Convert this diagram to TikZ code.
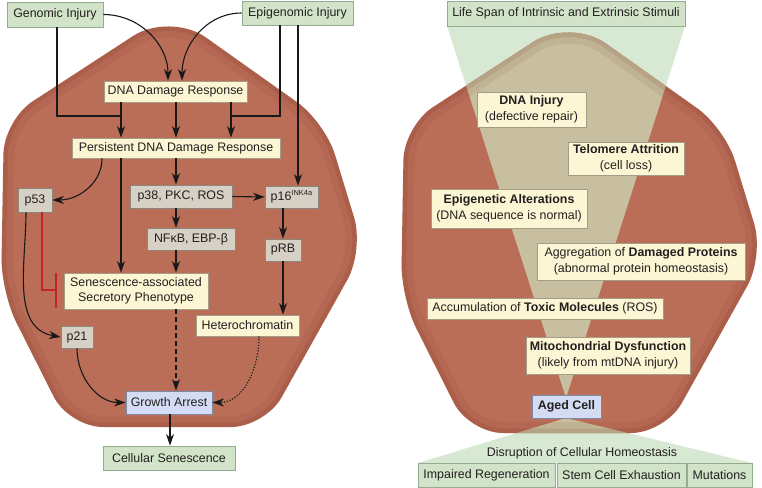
\documentclass[tikz,border=0pt]{standalone}
\usepackage{fontspec}
\setmainfont{Liberation Sans}
\usetikzlibrary{arrows.meta,calc}
\definecolor{cellbrown}{HTML}{BA6D57}
\definecolor{celldark}{HTML}{6E2A1A}
\definecolor{tanc}{HTML}{C7BF9F}
\definecolor{lgreen}{HTML}{D7E8D3}
\definecolor{gfill}{HTML}{D1E3C9}
\definecolor{gline}{HTML}{94AB8E}
\definecolor{yfill}{HTML}{FCF6D4}
\definecolor{yline}{HTML}{A39C86}
\definecolor{grfill}{HTML}{D7D1C5}
\definecolor{grline}{HTML}{8C877E}
\definecolor{bfill}{HTML}{D3DCF3}
\definecolor{bline}{HTML}{7D89A8}
\definecolor{txt}{HTML}{231F20}
\definecolor{inhib}{HTML}{C8202E}
\newcommand\cellpath{(167,427) -- (69,427) -- (1,292) -- (4,120) [rounded corners=44] -- (170,12) [rounded corners=34] -- (325,122) -- (364,250) -- (265,427) -- cycle}
\begin{document}
\begin{tikzpicture}[x=1pt,y=-1pt,
  every node/.style={font=\fontsize{12.4}{15.5}\selectfont, text=txt, inner sep=0pt, align=center},
  gbox/.style={draw=gline, fill=gfill, line width=0.8pt},
  ybox/.style={draw=yline, fill=yfill, line width=0.8pt},
  qbox/.style={draw=grline, fill=grfill, line width=0.8pt},
  bbox/.style={draw=bline, fill=bfill, line width=0.8pt},
  conn/.style={line width=1.1pt, draw=black!90},
  arr/.style={conn, -{Stealth[length=11.5pt,width=8pt,inset=3.5pt]}},
  cellr/.style={rounded corners=34}
]
\useasboundingbox (0,0) rectangle (762,487);
\fill[white] (0,0) rectangle (762,487);
% funnels (outside cell)
\fill[lgreen] (447,26) -- (685,26) -- (566,398) -- cycle;
\fill[lgreen] (566,418) -- (418,463) -- (752,463) -- cycle;
% left cell
\begin{scope}
  \clip[cellr] \cellpath;
  \fill[cellbrown] (0,0) rectangle (380,487);
  \draw[celldark, opacity=.08, line width=22pt, cellr] \cellpath;
  \draw[celldark, opacity=.12, line width=9pt, cellr] \cellpath;
\end{scope}
% right cell
\begin{scope}
  \clip[cellr, shift={(400,6)}] \cellpath;
  \fill[cellbrown] (380,0) rectangle (762,487);
  \fill[tanc] (447,26) -- (685,26) -- (566,398) -- cycle;
  \fill[tanc] (566,418) -- (418,463) -- (752,463) -- cycle;
  \draw[celldark, opacity=.08, line width=22pt, cellr, shift={(400,6)}] \cellpath;
  \draw[celldark, opacity=.12, line width=9pt, cellr, shift={(400,6)}] \cellpath;
\end{scope}

% ---------- left panel nodes ----------
\node[gbox, minimum width=96, minimum height=25] (gen) at (55,14.5) {Genomic Injury};
\node[gbox, minimum width=111, minimum height=24] (epi) at (297.5,13) {Epigenomic Injury};
\node[ybox, minimum width=143, minimum height=21] (ddr) at (175.5,91.5) {DNA Damage Response};
\node[ybox, minimum width=208, minimum height=20] (pddr) at (176,148) {Persistent DNA Damage Response};
\node[qbox, minimum width=34, minimum height=24] (p53) at (35,200) {p53};
\node[qbox, minimum width=102, minimum height=23] (p38) at (181,196.5) {p38, PKC, ROS};
\node[qbox, minimum width=53, minimum height=22] (p16) at (291.5,197) {p16\raisebox{0.42em}{\fontsize{7.5}{8}\selectfont INK4a}};
\node[qbox, minimum width=88, minimum height=22] (nfkb) at (191,239) {NFκB, EBP-β};
\node[qbox, minimum width=36, minimum height=22] (prb) at (283,250) {pRB};
\node[ybox, minimum width=144, minimum height=36, font=\fontsize{12.4}{14.7}\selectfont] (sasp) at (136,291) {Senescence-associated\\Secretory Phenotype};
\node[ybox, minimum width=103, minimum height=21] (het) at (247.5,325.5) {Heterochromatin};
\node[qbox, minimum width=32, minimum height=22] (p21) at (77,337) {p21};
\node[bbox, minimum width=86, minimum height=23] (ga) at (169,402.5) {Growth Arrest};
\node[gbox, minimum width=132, minimum height=24] (cs) at (169,458) {Cellular Senescence};

% ---------- left panel connectors ----------
\draw[arr] (gen.east) to[out=0,in=90] (ddr.north -| 168,0);
\draw[arr] (epi.west) to[out=180,in=90] (ddr.north -| 182,0);
\draw[conn] (gen.south -| 57,0) |- (121,116);
\draw[conn] (epi.south -| 280,0) |- (231,116);
\draw[arr] (ddr.south -| 121,0) -- (pddr.north -| 121,0);
\draw[arr] (ddr.south -| 176,0) -- (pddr.north -| 176,0);
\draw[arr] (ddr.south -| 231,0) -- (pddr.north -| 231,0);
\draw[arr] (epi.south -| 298,0) -- (p16.north -| 298,0);
\draw[arr] (pddr.south -| 102,0) to[out=-90,in=0] (p53.east);
\draw[arr] (pddr.south -| 121,0) -- (sasp.north -| 121,0);
\draw[arr] (pddr.south -| 176,0) -- (p38.north -| 176,0);
\draw[arr] (p38.east) -- (p16.west);
\draw[arr] (p38.south -| 176,0) -- (nfkb.north -| 176,0);
\draw[arr] (p16.south -| 283,0) -- (prb.north);
\draw[arr] (prb.south) -- (het.north -| 283,0);
\draw[arr] (nfkb.south -| 176,0) -- (sasp.north -| 176,0);
\draw[inhib, line width=1.1pt] (p53.south -| 42,0) |- (56,290);
\draw[inhib, line width=1.1pt] (56,273) -- (56,308);
\draw[arr] (p53.south -| 26,0) to[out=-90,in=170] (p21.west);
\draw[arr] (p21.south) to[out=-90,in=180] (ga.west);
\draw[arr, dash pattern=on 5pt off 3pt] (sasp.south -| 176,0) -- (ga.north -| 176,0);
\draw[arr, dash pattern=on 1.2pt off 1.6pt] (het.south -| 259,0) to[out=-90,in=0] (ga.east);
\draw[arr] (ga.south -| 170,0) -- (cs.north -| 170,0);

% ---------- right panel ----------
\node[gbox, minimum width=238, minimum height=25] (life) at (566,13.5) {Life Span of Intrinsic and Extrinsic Stimuli};
\node[ybox, minimum width=109, minimum height=35] (dnainj) at (531.5,109.5) {\textbf{DNA Injury}\\(defective repair)};
\node[ybox, minimum width=116, minimum height=33] (telo) at (626,158.5) {\textbf{Telomere Attrition}\\(cell loss)};
\node[ybox, minimum width=156, minimum height=39] (epig) at (509,208.5) {\textbf{Epigenetic Alterations}\\(DNA sequence is normal)};
\node[ybox, minimum width=208, minimum height=37] (aggr) at (641,261.5) {Aggregation of \textbf{Damaged Proteins}\\(abnormal protein homeostasis)};
\node[ybox, minimum width=236, minimum height=21] (accum) at (545,308.5) {Accumulation of \textbf{Toxic Molecules} (ROS)};
\node[ybox, minimum width=164, minimum height=37] (mito) at (608,355.5) {\textbf{Mitochondrial Dysfunction}\\(likely from mtDNA injury)};
\node[bbox, minimum width=69, minimum height=23] (aged) at (566.5,406.5) {\textbf{Aged Cell}};
\node (disr) at (582,453) {Disruption of Cellular Homeostasis};
\node[gbox, minimum width=137, minimum height=24] (imp) at (486.5,475) {Impaired Regeneration};
\node[gbox, minimum width=129, minimum height=24] (stem) at (621.5,475) {Stem Cell Exhaustion};
\node[gbox, minimum width=65, minimum height=24] (mut) at (719.5,475) {Mutations};
\end{tikzpicture}
\end{document}
